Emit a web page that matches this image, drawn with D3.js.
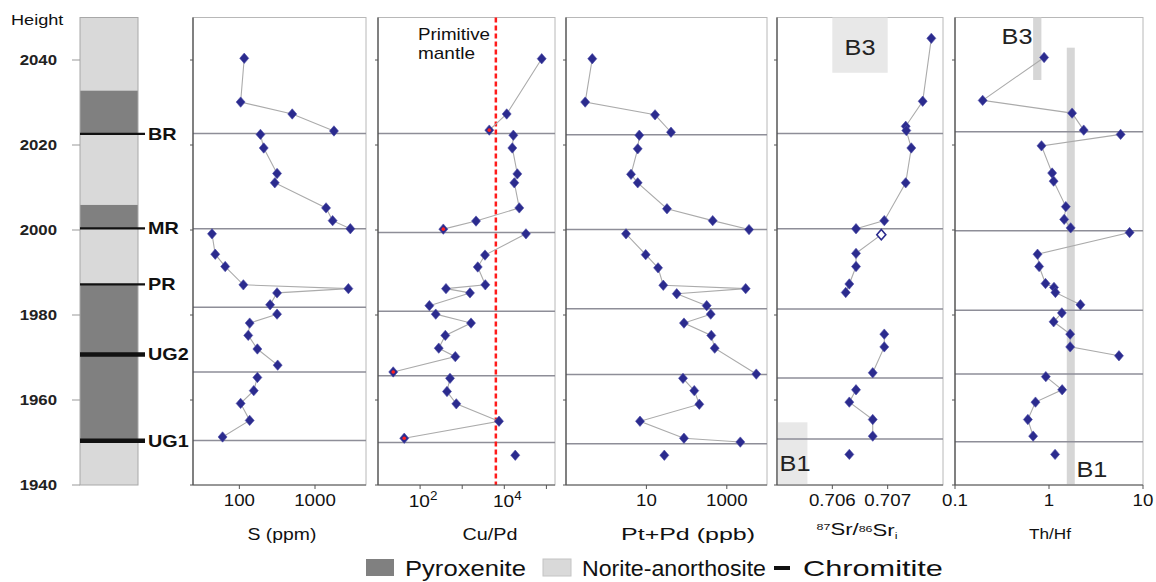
<!DOCTYPE html>
<html>
<head>
<meta charset="utf-8">
<title>Stratigraphic profile</title>
<script src="https://d3js.org/d3.v7.min.js"></script>
<style>
  body { margin: 0; background: #fff; }
  svg { font-family: "Liberation Sans", Arial, sans-serif; }
</style>
</head>
<body>
<svg id="chart" width="1156" height="582"></svg>
<script>
// ---- data ----
const heightTicks = [1940, 1960, 1980, 2000, 2020, 2040];

// lithology column: [bottom, top, rock]
const layers = [
  [2032.8, 2050, "Norite-anorthosite"],
  [2022.6, 2032.8, "Pyroxenite"],
  [2005.9, 2022.6, "Norite-anorthosite"],
  [2000.4, 2005.9, "Pyroxenite"],
  [1987.2, 2000.4, "Norite-anorthosite"],
  [1950.4, 1987.2, "Pyroxenite"],
  [1940, 1950.4, "Norite-anorthosite"]
];
const reefNames = ["BR", "MR", "PR", "UG2", "UG1"];
const reefHeights = [2022.6, 2000.4, 1987.2, 1970.7, 1950.4];

// samples: [height, value, segment]
const sData = [
  [2040.4,116,0],[2030.1,104,0],[2027.3,500,0],[2023.3,1780,0],
  [2022.5,190,1],[2019.3,210,1],[2013.3,315,1],[2011.1,294,1],[2005.2,1400,1],[2002.2,1710,1],[2000.3,2930,1],
  [1999.1,43.5,2],[1994.3,48,2],[1991.4,65,2],[1987.1,113,2],[1986.2,2760,2],[1985.2,315,2],[1982.4,255,2],
  [1980.2,315,3],[1978.1,137,3],[1975.2,131,3],[1972.0,173,3],[1968.2,321,3],
  [1965.3,173,4],[1962.2,155,4],[1959.2,104,4],[1955.2,137,4],[1951.3,60,4]
];
const cuPdData = [
  [2040.3,77300,0],[2027.3,11400,0],[2023.5,4400,0],
  [2022.3,16400,1],[2019.3,15500,1],[2013.2,20400,1],[2011.1,17300,1],[2005.2,22700,1],[2002.1,2130,1],[2000.2,356,1],
  [1999.1,32700,2],[1994.1,3480,2],[1991.3,2340,2],[1987.1,3540,2],[1986.2,412,2],[1985.2,1530,2],[1982.2,166,2],
  [1980.2,235,3],[1978.1,1620,3],[1975.2,397,3],[1972.2,277,3],[1970.2,686,3],[1966.6,23,3],
  [1965.1,513,4],[1962.0,435,4],[1959.1,724,4],[1955.0,7480,4],[1951.0,42,4],
  [1947.0,18200,5]
];
const cuPdRedIdx = [2, 9, 22, 27];
const primitiveMantleCuPd = 6300;

const ptPdData = [
  [2040.3,0.45,0],[2030.1,0.30,0],[2027.1,16.4,0],[2023.0,40.9,0],
  [2022.3,6.65,1],[2019.1,6.08,1],[2013.1,4.14,1],[2011.1,6.08,1],[2005.0,32.5,1],[2002.2,446,1],[2000.1,3570,1],
  [1999.1,3.11,2],[1994.2,9.6,2],[1991.1,19.5,2],[1987.0,26.3,2],[1986.2,2950,2],[1985.0,56.8,2],[1982.2,316,2],
  [1980.2,398,3],[1978.1,86,3],[1975.2,411,3],[1972.2,500,3],[1966.1,5420,3],
  [1965.1,81.3,4],[1962.2,155,4],[1959.0,207,4],[1955.0,6.93,4],[1951.0,86,4],[1950.1,2170,4],
  [1947.0,27.9,5]
];
const srData = [
  [2045.1,0.707789,0],[2030.3,0.707633,0],[2024.4,0.707326,0],[2023.4,0.707337,0],
  [2019.3,0.707427,0],[2011.1,0.707326,0],[2002.2,0.706939,0],[2000.3,0.706428,0],
  [1998.9,0.706885,2],[1994.5,0.706428,2],[1991.4,0.706428,2],[1987.3,0.706307,2],[1985.3,0.706242,2],
  [1975.5,0.706939,3],[1972.5,0.706939,3],[1966.4,0.706730,3],
  [1962.4,0.706428,4],[1959.5,0.706307,4],[1955.4,0.706730,4],[1951.5,0.706730,4],
  [1947.2,0.706307,5]
];
const srOpenIdx = [8];
const thHfData = [
  [2040.6,0.887,0],[2030.5,0.197,0],[2027.5,1.76,0],[2023.5,2.34,0],
  [2022.5,5.78,1],[2019.8,0.832,1],[2013.4,1.08,1],[2011.5,1.12,1],[2005.5,1.51,1],[2002.5,1.45,1],[2000.5,1.70,1],
  [1999.4,7.2,2],[1994.3,0.755,2],[1991.4,0.785,2],[1987.4,0.918,2],[1986.5,1.13,2],[1985.3,1.17,2],[1982.4,2.16,2],
  [1980.5,1.37,3],[1978.4,1.12,3],[1975.5,1.68,3],[1972.5,1.68,3],[1970.4,5.55,3],
  [1965.5,0.925,4],[1962.4,1.38,4],[1959.5,0.718,4],[1955.4,0.596,4],[1951.5,0.678,4],
  [1947.2,1.16,5]
];

// unit boundaries drawn across each panel
const sLines = [2022.7, 2000.3, 1981.8, 1966.6, 1950.5];
const cuPdLines = [2022.7, 1999.4, 1980.9, 1965.7, 1950.0];
const ptPdLines = [2022.4, 2000.1, 1981.5, 1966.0, 1949.7];
const srLines = [2022.7, 2000.3, 1981.4, 1965.2, 1950.8];
const thHfLines = [2023.1, 1999.8, 1981.1, 1966.1, 1950.2];

// B1 / B3 reference fields: [xMin, xMax, hMin, hMax]
const srB3 = [0.706, 0.707, 2037, 2050];
const srB1 = [0.705, 0.70555, 1940, 1954.75];
const thHfB3 = [0.678, 0.83, 2035.3, 2050];
const thHfB1 = [1.546, 1.88, 1940, 2042.9];

// ---- drawing ----
const svg = d3.select("#chart");
const y = d3.scaleLinear().domain([1940, 2050]).range([485, 17.5]);
const rockFill = { "Pyroxenite": "#808080", "Norite-anorthosite": "#d9d9d9" };
const diamond = "M0,-5.2L4.5,0L0,5.2L-4.5,0Z";

// text stretched horizontally (the figure's type is wide)
function addText(parent, x, yy, str, size, o = {}) {
  const g = parent.append("g");
  const t = g.append("text")
    .attr("font-size", size)
    .attr("dy", "0.35em")
    .attr("text-anchor", o.anchor || "middle")
    .attr("fill", o.fill || "#111")
    .attr("font-weight", o.bold ? "bold" : null);
  if (typeof str === "function") str(t); else t.text(str);
  let sx = o.sx || 1.2;
  if (o.width) sx = o.width / t.node().getComputedTextLength();
  g.attr("transform", `translate(${x},${yy}) scale(${sx},1)`);
  return t;
}

// left lithology column
const col = svg.append("g");
const colX0 = 80, colX1 = 138;
col.selectAll("rect.layer").data(layers).join("rect")
  .attr("class", "layer")
  .attr("x", colX0).attr("width", colX1 - colX0)
  .attr("y", d => y(d[1])).attr("height", d => y(d[0]) - y(d[1]))
  .attr("fill", d => rockFill[d[2]]);
col.append("rect")
  .attr("x", colX0).attr("y", y(2050)).attr("width", colX1 - colX0).attr("height", y(1940) - y(2050))
  .attr("fill", "none").attr("stroke", "#a8a8a8");

col.selectAll("line.hTick").data(heightTicks).join("line")
  .attr("class", "hTick")
  .attr("x1", 72).attr("x2", colX0).attr("y1", d => y(d)).attr("y2", d => y(d))
  .attr("stroke", "#999");
heightTicks.forEach(h => addText(col, 57, y(h), String(h), 14, { anchor: "end", bold: true, fill: "#222", sx: 1.2 }));
addText(col, 11, 20, "Height", 15.5, { anchor: "start", sx: 1.17 });

reefNames.forEach((name, i) => {
  const yy = y(reefHeights[i]);
  col.append("line")
    .attr("x1", colX0).attr("x2", 145).attr("y1", yy).attr("y2", yy)
    .attr("stroke", "#111").attr("stroke-width", name.startsWith("UG") ? 4.5 : 2.2);
  addText(col, 148, yy, name, 16.5, { anchor: "start", bold: true, sx: 1.2 });
});

// data panels
const panels = [
  { data: sData, lines: sLines, x0: 193, x1: 366, x: d3.scaleLog().domain([24.4, 4720]),
    ticks: [100, 1000], labels: ["100", "1000"], title: "S (ppm)", titleX: 282, titleW: 69 },
  { data: cuPdData, lines: cuPdLines, x0: 378, x1: 555, x: d3.scaleLog().domain([10, 160000]),
    ticks: [100, 1000, 10000, 100000], labels: ["2", null, "4", null], sup: true,
    title: "Cu/Pd", titleX: 490, titleW: 55, red: cuPdRedIdx },
  { data: ptPdData, lines: ptPdLines, x0: 566, x1: 767, x: d3.scaleLog().domain([0.1, 10000]),
    ticks: [10, 1000], labels: ["10", "1000"], title: "Pt+Pd (ppb)", titleX: 688, titleW: 134 },
  { data: srData, lines: srLines, x0: 777, x1: 943, x: d3.scaleLinear().domain([0.705, 0.708]),
    ticks: [0.706, 0.707], labels: ["0.706", "0.707"], title: "Sr", titleX: 857, titleW: 81,
    open: srOpenIdx, boxes: [[srB3, "B3", 0.7065, 2042.9], [srB1, "B1", 0.705325, 1945.2]], boxFill: "#e8e8e8" },
  { data: thHfData, lines: thHfLines, x0: 955, x1: 1143, x: d3.scaleLog().domain([0.1, 10]),
    ticks: [0.1, 1, 10], labels: ["0.1", "1", "10"], title: "Th/Hf", titleX: 1050, titleW: 42,
    boxes: [[thHfB3, "B3", 0.457, 2045.6], [thHfB1, "B1", 2.86, 1943.6]], boxFill: "#d6d6d6" }
];

panels.forEach(p => {
  const g = svg.append("g");
  const x = p.x.range([p.x0, p.x1]);
  const yT = y(2050), yB = y(1940);

  g.append("rect")
    .attr("x", p.x0).attr("y", yT).attr("width", p.x1 - p.x0).attr("height", yB - yT)
    .attr("fill", "#fff").attr("stroke", "#b8b8b8");

  (p.boxes || []).forEach(([b, lab, lx, ly]) => {
    g.append("rect")
      .attr("x", x(b[0])).attr("width", x(b[1]) - x(b[0]))
      .attr("y", y(b[3])).attr("height", y(b[2]) - y(b[3]))
      .attr("fill", p.boxFill);
    addText(g, x(lx), y(ly), lab, 22, { fill: "#222", sx: 1.15 });
  });

  g.selectAll("line.unit").data(p.lines).join("line")
    .attr("class", "unit")
    .attr("x1", p.x0).attr("x2", p.x1).attr("y1", d => y(d)).attr("y2", d => y(d))
    .attr("stroke", "#8e8e98").attr("stroke-width", 1.5);

  if (p.red) {
    g.append("line")
      .attr("x1", x(primitiveMantleCuPd)).attr("x2", x(primitiveMantleCuPd))
      .attr("y1", yT).attr("y2", yB)
      .attr("stroke", "#ff1a1a").attr("stroke-width", 2.5).attr("stroke-dasharray", "5,3");
    addText(g, 418, 34, "Primitive", 16, { anchor: "start", width: 72 });
    addText(g, 418, 53.5, "mantle", 16, { anchor: "start", width: 57 });
  }

  const line = d3.line().x(d => x(d[1])).y(d => y(d[0]));
  const segs = d3.groups(p.data, d => d[2]);
  g.selectAll("path.seg").data(segs.filter(s => s[1].length > 1)).join("path")
    .attr("class", "seg")
    .attr("d", s => line(s[1]))
    .attr("fill", "none").attr("stroke", "#ababab").attr("stroke-width", 1.1);

  g.selectAll("path.pt").data(p.data).join("path")
    .attr("class", "pt")
    .attr("d", diamond)
    .attr("transform", d => `translate(${x(d[1])},${y(d[0])})`)
    .attr("fill", (d, i) => (p.open || []).includes(i) ? "#fff" : "#2b2b8e")
    .attr("stroke", (d, i) => (p.open || []).includes(i) ? "#2b2b8e" : "#4a4aa6")
    .attr("stroke-width", (d, i) => (p.open || []).includes(i) ? 1.6 : 0.6);

  if (p.red) {
    g.selectAll("circle.red").data(p.red.map(i => p.data[i])).join("circle")
      .attr("class", "red")
      .attr("cx", d => x(d[1])).attr("cy", d => y(d[0])).attr("r", 1.8)
      .attr("fill", "#ff2020");
  }

  // axes
  g.append("line").attr("x1", p.x0).attr("x2", p.x0).attr("y1", yT).attr("y2", yB)
    .attr("stroke", "#444").attr("stroke-width", 1.2);
  g.append("line").attr("x1", p.x0).attr("x2", p.x1).attr("y1", yB).attr("y2", yB)
    .attr("stroke", "#555").attr("stroke-width", 1.2);
  g.selectAll("line.yt").data(heightTicks).join("line")
    .attr("class", "yt")
    .attr("x1", p.x0 - 3).attr("x2", p.x0).attr("y1", d => y(d)).attr("y2", d => y(d))
    .attr("stroke", "#555");
  g.selectAll("line.xt").data(p.ticks).join("line")
    .attr("class", "xt")
    .attr("x1", d => x(d)).attr("x2", d => x(d)).attr("y1", yB).attr("y2", yB + 4)
    .attr("stroke", "#555");

  p.ticks.forEach((t, i) => {
    const lab = p.labels[i];
    if (lab == null) return;
    if (p.sup) {
      addText(g, x(t) + 3, 501, tx => {
        tx.append("tspan").text("10");
        tx.append("tspan").attr("font-size", 12).attr("dy", "-0.6em").text(lab);
      }, 17, { sx: 1.12 });
    } else {
      addText(g, x(t), 500, lab, 17, { sx: 1.1 });
    }
  });

  if (p.title === "Sr") {
    addText(g, p.titleX, 534, tx => {
      tx.append("tspan").attr("font-size", 9).attr("dy", "-0.4em").text("87");
      tx.append("tspan").attr("dy", "0.3em").text("Sr/");
      tx.append("tspan").attr("font-size", 9).attr("dy", "-0.4em").text("86");
      tx.append("tspan").attr("dy", "0.3em").text("Sr");
      tx.append("tspan").attr("font-size", 9).attr("dy", "0.25em").text("i");
    }, 16, { width: p.titleW });
  } else {
    addText(g, p.titleX, 534, p.title, p.title === "Th/Hf" ? 15 : 17, { width: p.titleW });
  }
});

// legend
const leg = svg.append("g");
leg.append("rect").attr("x", 366).attr("y", 559).attr("width", 28).attr("height", 17).attr("fill", rockFill["Pyroxenite"]);
addText(leg, 405, 568, "Pyroxenite", 22, { anchor: "start", width: 121 });
leg.append("rect").attr("x", 543).attr("y", 559).attr("width", 28).attr("height", 17)
  .attr("fill", rockFill["Norite-anorthosite"]).attr("stroke", "#c4c4c4");
addText(leg, 582, 568, "Norite-anorthosite", 22, { anchor: "start", width: 184 });
leg.append("line").attr("x1", 774).attr("x2", 790).attr("y1", 568).attr("y2", 568)
  .attr("stroke", "#111").attr("stroke-width", 4);
addText(leg, 803, 568, "Chromitite", 22, { anchor: "start", width: 140 });
</script>
</body>
</html>
